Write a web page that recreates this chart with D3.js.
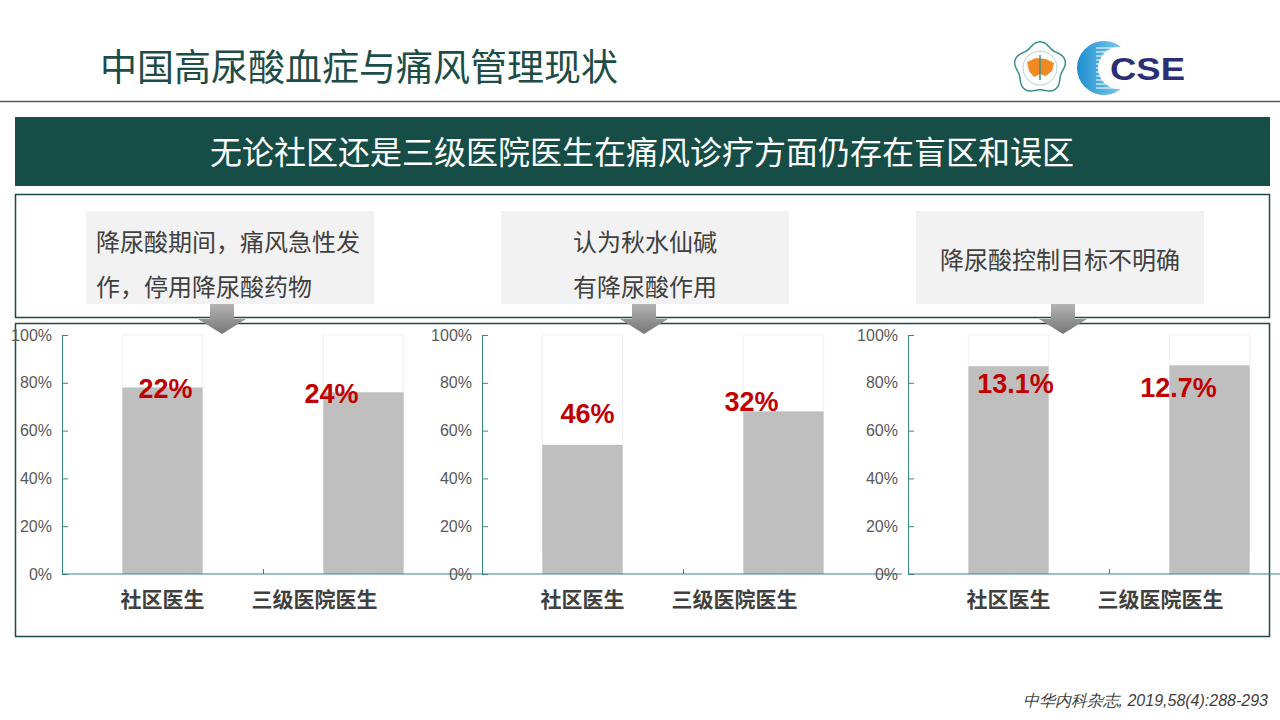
<!DOCTYPE html>
<html>
<head>
<meta charset="utf-8">
<script src="https://cdn.jsdelivr.net/npm/d3@7"></script>
<style>
  body { margin: 0; background: #fff; }
  #graf { width: 1280px; height: 720px; }
  .tick text { font-family: "Liberation Sans", Arial, sans-serif; }
</style>
</head>
<body>
<div id="graf"></div>
<script>
// Datos
const titulo = "中国高尿酸血症与痛风管理现状"
const banner = "无论社区还是三级医院医生在痛风诊疗方面仍存在盲区和误区"
const problemas = [
  ["降尿酸期间，痛风急性发", "作，停用降尿酸药物"],
  ["认为秋水仙碱", "有降尿酸作用"],
  ["降尿酸控制目标不明确"],
]
const categorias = ["社区医生", "三级医院医生"]
// % de médicos con el error (etiqueta roja = parte blanca de la barra)
const errores = [
  [22, 24],
  [46, 32],
  [13.1, 12.7],
]
const yTicks = [0, 20, 40, 60, 80, 100]
const fuente = "中华内科杂志, 2019,58(4):288-293"

// Dimensiones
const anchoTotal = 1280
const altoTotal = 720
const cjk = '"Noto Sans CJK SC", "Noto Sans", sans-serif'
const latin = '"Liberation Sans", Arial, sans-serif'

const svg = d3
  .select("#graf")
  .append("svg")
  .attr("width", anchoTotal)
  .attr("height", altoTotal)

const defs = svg.append("defs")
const grad = defs
  .append("linearGradient")
  .attr("id", "flecha")
  .attr("x1", 0).attr("y1", 0).attr("x2", 0).attr("y2", 1)
grad.append("stop").attr("offset", "0%").attr("stop-color", "#b4b4b4")
grad.append("stop").attr("offset", "100%").attr("stop-color", "#767676")

const gradC = defs
  .append("linearGradient")
  .attr("id", "cse")
  .attr("x1", 0).attr("y1", 0).attr("x2", 1).attr("y2", 0)
gradC.append("stop").attr("offset", "0%").attr("stop-color", "#1f8fd0")
gradC.append("stop").attr("offset", "100%").attr("stop-color", "#8fd4f0")

// Encabezado
svg
  .append("text")
  .attr("x", 100)
  .attr("y", 81)
  .attr("font-family", cjk)
  .attr("font-size", 37)
  .attr("fill", "#1d4d47")
  .text(titulo)

svg
  .append("line")
  .attr("x1", 0).attr("x2", anchoTotal)
  .attr("y1", 101.5).attr("y2", 101.5)
  .attr("stroke", "#595959")
  .attr("stroke-width", 1.5)

// Logos
const logo = svg.append("g").attr("transform", "translate(1040, 68)")
const petalos = d3.range(0, 361, 3).map((a) => {
  const t = (a * Math.PI) / 180
  return [t, 24 + 2.2 * Math.cos(5 * t)]
})
logo
  .append("path")
  .attr("d", d3.lineRadial().curve(d3.curveCardinalClosed)(petalos))
  .attr("fill", "#fff")
  .attr("stroke", "#3c8f8a")
  .attr("stroke-width", 1.5)
logo
  .append("circle")
  .attr("r", 17)
  .attr("fill", "none")
  .attr("stroke", "#9cc8c4")
  .attr("stroke-width", 0.8)
logo
  .append("path")
  .attr("d", "M-13,-6 L-4,-10 L6,-9 L14,-5 L12,3 L6,8 L0,6 L-6,9 L-11,3 Z")
  .attr("fill", "#f08a24")
logo
  .append("line")
  .attr("x1", 0).attr("x2", 0).attr("y1", -13).attr("y2", 12)
  .attr("stroke", "#3c8f8a")
  .attr("stroke-width", 1.5)

const cse = svg.append("g").attr("transform", "translate(1104, 68)")
cse.append("circle").attr("r", 27).attr("fill", "url(#cse)")
d3.range(-20, 24, 4).forEach((yy) => {
  cse
    .append("line")
    .attr("x1", -8).attr("x2", 30)
    .attr("y1", yy).attr("y2", yy)
    .attr("stroke", "#fff")
    .attr("stroke-width", 1.2)
})
cse.append("circle").attr("cx", 15).attr("r", 21).attr("fill", "#fff")
svg
  .append("text")
  .attr("x", 1110)
  .attr("y", 80)
  .attr("font-family", latin)
  .attr("font-weight", "bold")
  .attr("font-size", 32)
  .attr("textLength", 75)
  .attr("lengthAdjust", "spacingAndGlyphs")
  .attr("fill", "#2b3075")
  .text("CSE")

// Banda verde
svg
  .append("rect")
  .attr("x", 15).attr("y", 117)
  .attr("width", 1255).attr("height", 69)
  .attr("fill", "#174d47")
svg
  .append("text")
  .attr("x", 642)
  .attr("y", 164)
  .attr("text-anchor", "middle")
  .attr("font-family", cjk)
  .attr("font-size", 32)
  .attr("fill", "#fff")
  .text(banner)

// Cajas
svg
  .append("rect")
  .attr("x", 15.5).attr("y", 194.5)
  .attr("width", 1254).attr("height", 123)
  .attr("fill", "none")
  .attr("stroke", "#1e4a45")
  .attr("stroke-width", 1.5)
svg
  .append("rect")
  .attr("x", 15.5).attr("y", 323.5)
  .attr("width", 1254).attr("height", 313)
  .attr("fill", "none")
  .attr("stroke", "#1e4a45")
  .attr("stroke-width", 1.5)

// Layout de los tres paneles
const origenX = [62, 482, 908]
const cajaX = [86, 501, 916]
const textoAlign = ["start", "middle", "middle"]
const flechaX = [222, 644, 1063]
// ajustes manuales de las etiquetas rojas [dx, dy] (como en la diapositiva)
const ajusteEtq = [
  [[3, 0], [-32, 1]],
  [[5, -32], [-32, -10]],
  [[7, 17], [-31, 22]],
]
const ajusteCat = [0, -49]

// Escaladores
const y = d3.scaleLinear().domain([0, 100]).range([574, 335])
const x = d3.scaleBand().domain(categorias).range([0, 402]).padding(0)
const xBorde = d3.scaleLinear().domain([0, categorias.length]).range([0, 402])
const anchoBarra = x.bandwidth() * 0.4

problemas.forEach((lineas, i) => {
  // caja gris con el texto
  svg
    .append("rect")
    .attr("x", cajaX[i]).attr("y", 211)
    .attr("width", 288).attr("height", 93)
    .attr("fill", "#f2f2f2")

  const tx = textoAlign[i] === "start" ? cajaX[i] + 10 : cajaX[i] + 144
  const y0 = lineas.length === 1 ? 269 : 251
  svg
    .append("g")
    .selectAll("text")
    .data(lineas)
    .join("text")
    .attr("x", tx)
    .attr("y", (d, j) => y0 + j * 45)
    .attr("text-anchor", textoAlign[i])
    .attr("font-family", cjk)
    .attr("font-size", 24)
    .attr("fill", "#404040")
    .text((d) => d)

  // flecha
  const fx = flechaX[i]
  svg
    .append("path")
    .attr(
      "d",
      `M${fx - 12},304 H${fx + 12} V319 H${fx + 24} L${fx},334 L${fx - 24},319 H${fx - 12} Z`
    )
    .attr("fill", "url(#flecha)")

  // panel del gráfico
  const g = svg.append("g").attr("transform", `translate(${origenX[i]}, 0)`)
  const datos = categorias.map((c, k) => ({ cat: c, err: errores[i][k], k }))

  // parte blanca (error) hasta 100%
  g.selectAll("rect.blanco")
    .data(datos)
    .join("rect")
    .attr("class", "blanco")
    .attr("x", (d) => x(d.cat) + (x.bandwidth() - anchoBarra) / 2)
    .attr("y", y(100))
    .attr("width", anchoBarra)
    .attr("height", (d) => y(100 - d.err) - y(100))
    .attr("fill", "#fff")
    .attr("stroke", "#f0f0f0")
    .attr("stroke-width", 1)

  // parte gris
  g.selectAll("rect.gris")
    .data(datos)
    .join("rect")
    .attr("class", "gris")
    .attr("x", (d) => x(d.cat) + (x.bandwidth() - anchoBarra) / 2)
    .attr("y", (d) => y(100 - d.err))
    .attr("width", anchoBarra)
    .attr("height", (d) => y(0) - y(100 - d.err))
    .attr("fill", "#bfbfbf")

  // Ejes
  const yAxis = d3
    .axisLeft(y)
    .tickValues(yTicks)
    .tickFormat((d) => d + "%")
    .tickSizeInner(-6)
    .tickSizeOuter(-6)
    .tickPadding(10)
  const yg = g.append("g").call(yAxis)
  yg.selectAll("path, line").attr("stroke", "#3b8782")
  yg.selectAll("text").attr("font-size", 16).attr("fill", "#595959")

  const xAxis = d3
    .axisBottom(xBorde)
    .tickValues(d3.range(1, categorias.length))
    .tickSizeInner(-5)
    .tickFormat("")
  const xg = g.append("g").attr("transform", `translate(0, ${y(0)})`).call(xAxis)
  xg.select(".domain").remove()
  xg.selectAll("line").attr("stroke", "#3b8782")
  xg.append("line")
    .attr("x1", 0).attr("x2", 420)
    .attr("stroke", "#3b8782")
    .attr("stroke-width", 1.2)

  // etiquetas de categoría
  g.selectAll("text.cat")
    .data(datos)
    .join("text")
    .attr("class", "cat")
    .attr("x", (d) => x(d.cat) + x.bandwidth() / 2 + ajusteCat[d.k])
    .attr("y", 607)
    .attr("text-anchor", "middle")
    .attr("font-family", cjk)
    .attr("font-weight", "bold")
    .attr("font-size", 21)
    .attr("fill", "#404040")
    .text((d) => d.cat)

  // etiquetas rojas
  g.selectAll("text.err")
    .data(datos)
    .join("text")
    .attr("class", "err")
    .attr("x", (d) => x(d.cat) + x.bandwidth() / 2 + ajusteEtq[i][d.k][0])
    .attr("y", (d) => y(100 - d.err) + ajusteEtq[i][d.k][1] + 10)
    .attr("text-anchor", "middle")
    .attr("font-family", latin)
    .attr("font-weight", "bold")
    .attr("font-size", 27)
    .attr("fill", "#c00000")
    .text((d) => d.err + "%")
})

// Fuente
svg
  .append("text")
  .attr("x", 1268)
  .attr("y", 706)
  .attr("text-anchor", "end")
  .attr("font-family", latin)
  .attr("font-style", "italic")
  .attr("font-size", 16)
  .attr("fill", "#404040")
  .text(fuente)
</script>
</body>
</html>
